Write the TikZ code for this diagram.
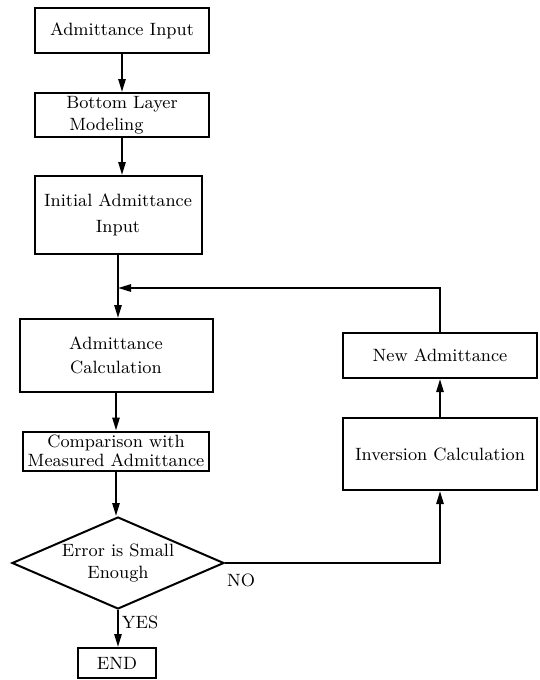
\documentclass[tikz,border=0pt]{standalone}
\usetikzlibrary{shapes.geometric,arrows.meta}
\begin{document}
\begin{tikzpicture}[x=0.5pt,y=-0.5pt,line width=1pt,
    box/.style={draw,align=center,inner sep=1pt,font=\fontsize{8.9}{11}\selectfont},
    decide/.style={draw,shape=diamond,aspect=2.3,inner sep=0pt,align=center,
      minimum width=106pt,minimum height=46pt,font=\fontsize{8.9}{11}\selectfont},
    flow/.style={-{Triangle[length=6.5pt,width=3.6pt]}},
    lbl/.style={font=\fontsize{8.9}{11}\selectfont}]
    \useasboundingbox (0,0) rectangle (540,680);
    % main column
    \node [box,minimum width=87pt,minimum height=22.5pt] (admin) at (122,30.5) {Admittance Input};
    \node [box,minimum width=87pt,minimum height=22pt,align=left] (bottom) at (122,115) {Bottom Layer\\\,Modeling};
    \node [box,minimum width=83.5pt,minimum height=39pt] (init) at (118,215) {Initial Admittance\\[2pt]Input};
    \coordinate (join) at (118,288);
    \node [box,minimum width=96.5pt,minimum height=36.5pt] (calc) at (116,355.5) {Admittance\\[1pt]Calculation};
    \node [box,minimum width=93pt,minimum height=19.5pt] (comp) at (116,451) {Comparison with\\[-1.5pt]Measured Admittance};
    \node [decide] (err) at (118,563) {Error is Small\\Enough};
    \node [box,minimum width=39pt,minimum height=15pt] (finish) at (117,663) {END};
    % feedback column
    \node [box,minimum width=97pt,minimum height=22.5pt] (newadm) at (440,355.5) {New Admittance};
    \node [box,minimum width=97pt,minimum height=36pt] (inv) at (440,454) {Inversion Calculation};
    % connectors
    \draw [flow] (admin) -- (bottom);
    \draw [flow] (bottom.south) -- (bottom.south |- init.north);
    \draw (init.south) -- (init.south |- join);
    \draw [flow] (join) -- (join |- calc.north);
    \draw [flow] (calc.south) -- (calc.south |- comp.north);
    \draw [flow] (comp.south) -- (comp.south |- err.north);
    \draw [flow] (err.south) -- (err.south |- finish.north);
    \draw [flow] (err.east) -| (inv.south);
    \draw [flow] (inv) -- (newadm);
    \draw [flow] (newadm.north) |- (join);
    \node [lbl] (no) at (241,580) {NO};
    \node [lbl] (yes) at (140,622) {YES};
\end{tikzpicture}
\end{document}
